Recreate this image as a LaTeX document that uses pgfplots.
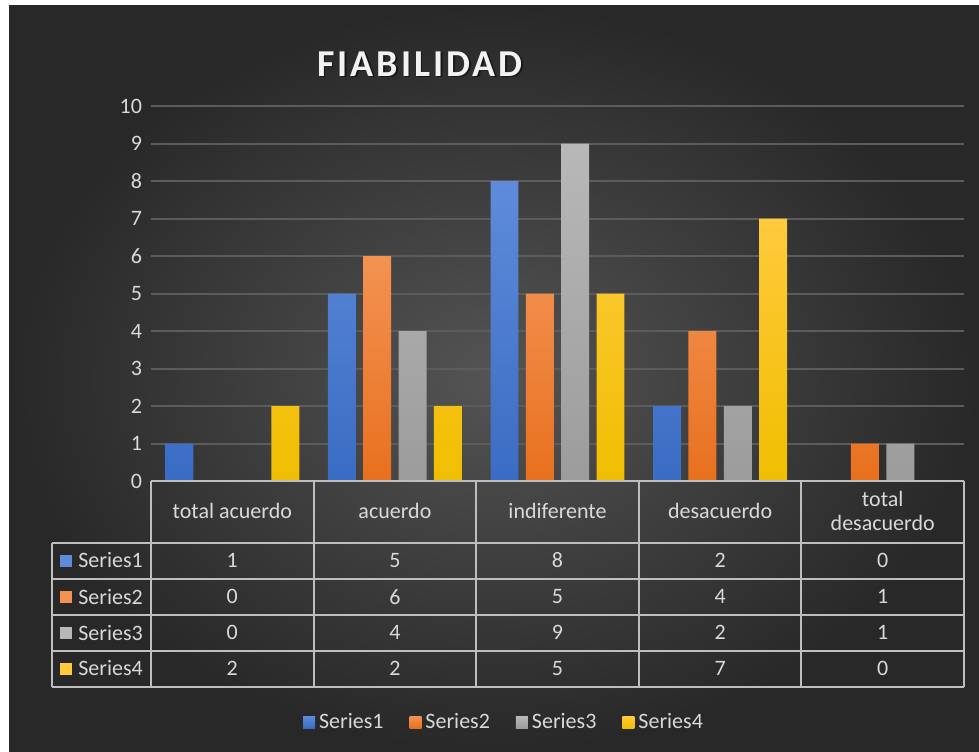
\documentclass[border=0pt]{standalone}
\usepackage{fontspec}
\setmainfont{Carlito}
\usepackage{pgfplots}
\usepackage{pgfplotstable}
\pgfplotsset{compat=1.18}

\definecolor{bgin}{RGB}{84,84,84}
\definecolor{bgout}{RGB}{40,40,40}
\definecolor{gridc}{RGB}{92,92,92}
\definecolor{tabc}{RGB}{190,190,190}
\definecolor{txt}{RGB}{217,217,217}
\definecolor{b1t}{RGB}{95,140,218}
\definecolor{b1b}{RGB}{58,108,196}
\definecolor{b2t}{RGB}{243,146,82}
\definecolor{b2b}{RGB}{232,112,30}
\definecolor{b3t}{RGB}{184,184,184}
\definecolor{b3b}{RGB}{156,156,156}
\definecolor{b4t}{RGB}{255,202,60}
\definecolor{b4b}{RGB}{240,190,0}

% cat: 0 total acuerdo, 1 acuerdo, 2 indiferente, 3 desacuerdo, 4 total desacuerdo
\pgfplotstableread{
cat s1 s2 s3 s4
0   1  0  0  2
1   5  6  4  2
2   8  5  9  5
3   2  4  2  7
4   0  1  1  0
}\data

\begin{document}
\begin{tikzpicture}[x=0.5pt,y=0.5pt]
% background (units: pixels of the reference, y up)
\fill[white] (0,0) rectangle (979,751);
\shade[inner color=bgin, outer color=bgout] (9,0) rectangle (979,745);

% title
\node[text=black, opacity=0.5, font=\fontsize{19}{22}\selectfont\bfseries\addfontfeature{LetterSpace=8}] at (421.5,685.5) {FIABILIDAD};
\node[text=white!95!black, font=\fontsize{19}{22}\selectfont\bfseries\addfontfeature{LetterSpace=8}] at (420,687) {FIABILIDAD};

\begin{axis}[
    at={(75.5pt,135pt)}, anchor=south west,
    width=406.5pt, height=187.5pt, scale only axis,
    xmin=-0.5, xmax=4.5, ymin=0, ymax=10,
    ytick={0,1,...,10}, xtick=\empty,
    ymajorgrids, grid style={gridc, line width=1pt},
    axis line style={draw=none},
    major tick length=0pt,
    /pgf/number format/assume math mode=true,
    yticklabel style={font=\fontsize{11}{13}\selectfont, text=txt, xshift=-1pt},
    ybar, bar width=0.172,
    legend columns=4,
    legend style={at={(0.4354,-0.643)}, anchor=center, draw=none, fill=none,
        font=\fontsize{11}{13}\selectfont, text=txt,
        /tikz/every even column/.append style={column sep=11pt}},
    legend image code/.code={\fill[#1] (0pt,-3pt) rectangle (6pt,3pt);},
]
\addplot[draw=none, bar shift=-0.326, top color=b1t, bottom color=b1b] table[x=cat,y=s1]{\data};
\addplot[draw=none, bar shift=-0.109, top color=b2t, bottom color=b2b] table[x=cat,y=s2]{\data};
\addplot[draw=none, bar shift=0.109, top color=b3t, bottom color=b3b] table[x=cat,y=s3]{\data};
\addplot[draw=none, bar shift=0.326, top color=b4t, bottom color=b4b] table[x=cat,y=s4]{\data};
\legend{Series1,Series2,Series3,Series4}
\end{axis}

% data table
\begin{scope}[tabc, line width=1pt]
\draw (151,270) -- (964,270);
\foreach \yy in {208.5,172.5,136,100.5,64.5} \draw (52,\yy) -- (964,\yy);
\draw (52,208.5) -- (52,64.5);
\foreach \xx in {151,313.6,476.2,638.8,801.4,964} \draw (\xx,270) -- (\xx,64.5);
\end{scope}

\begin{scope}[every node/.style={text=txt, font=\fontsize{11}{13}\selectfont, align=center}]
\node at (232.3,240) {total acuerdo};
\node at (394.9,240) {acuerdo};
\node at (557.5,240) {indiferente};
\node at (720.1,240) {desacuerdo};
\node[font=\fontsize{11}{12}\selectfont] at (882.7,240) {total\\desacuerdo};

\foreach \r in {0,...,4}{
  \foreach \j/\yy in {1/190.5,2/154.25,3/118.25,4/82.5}{
    \pgfplotstablegetelem{\r}{s\j}\of\data
    \node at ({151+162.6*(\r+0.5)},\yy) {\pgfplotsretval};
  }
}

\foreach \j/\yy/\c in {1/190.5/b1t,2/154.25/b2t,3/118.25/b3t,4/82.5/b4t}{
  \fill[\c] (60,\yy-6) rectangle (72,\yy+6);
  \node[anchor=west, inner sep=0pt] at (78,\yy) {Series\j};
}
\end{scope}
\end{tikzpicture}
\end{document}
